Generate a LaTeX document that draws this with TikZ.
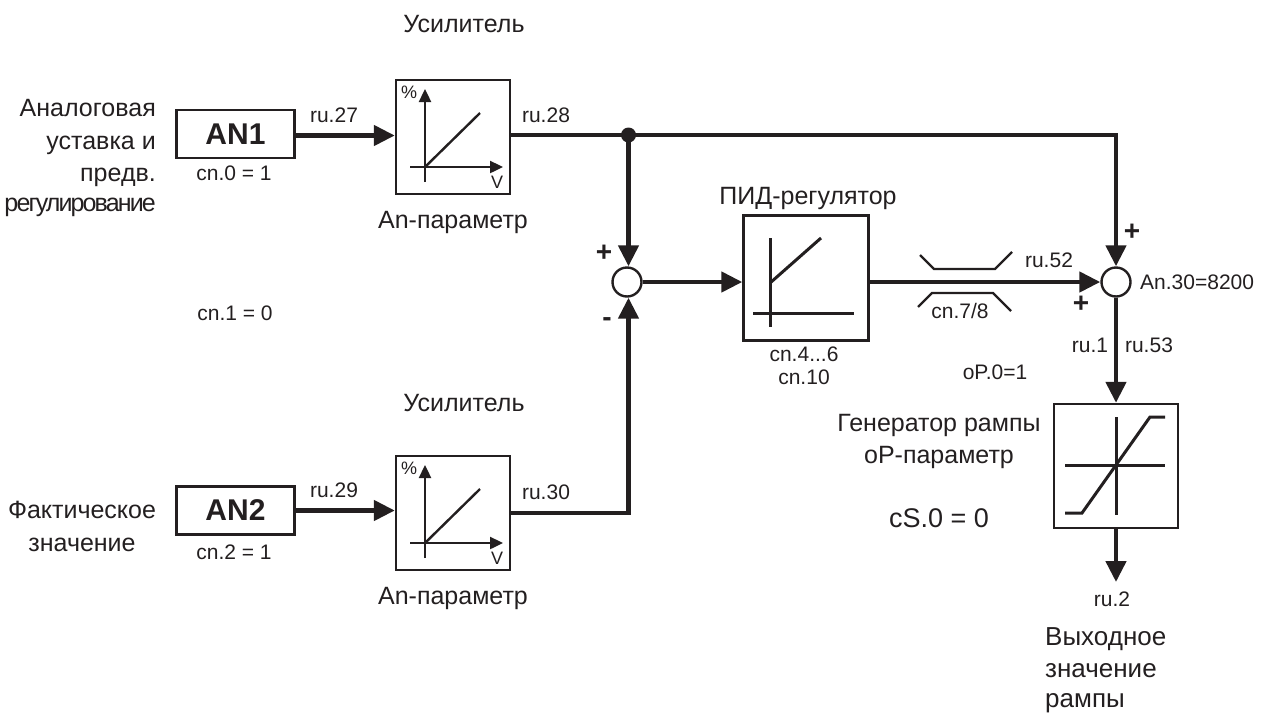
\documentclass[tikz,border=0pt]{standalone}
\usepackage{fontspec}
\setmainfont{Liberation Sans}
\usetikzlibrary{arrows.meta,calc}
\definecolor{ink}{HTML}{231F20}
\tikzset{
  big/.style={inner sep=0pt,text=ink,text height=20pt,text depth=3pt,font=\fontsize{25}{25}\selectfont},
  bigger/.style={inner sep=0pt,text=ink,text height=20pt,text depth=3pt,font=\fontsize{26}{26}\selectfont},
  mid/.style={inner sep=0pt,text=ink,text height=21pt,text depth=3pt,font=\fontsize{27}{27}\selectfont},
  small/.style={inner sep=0pt,text=ink,text height=18pt,text depth=3pt,font=\fontsize{21}{21}\selectfont},
  tiny/.style={inner sep=0pt,text=ink,text height=13pt,text depth=3pt,font=\fontsize{18}{18}\selectfont},
  sign/.style={inner sep=0pt,text=ink,text height=19pt,text depth=5pt,font=\fontsize{28}{28}\selectfont\bfseries},
  anbox/.style={draw=ink,line width=2.4pt,fill=white,minimum width=118pt,minimum height=48pt,inner sep=0pt,font=\fontsize{30}{30}\selectfont\bfseries,text=ink},
  ampbox/.style={draw=ink,line width=2.4pt,fill=white,minimum width=114pt,minimum height=114pt,inner sep=0pt},
  pidbox/.style={draw=ink,line width=2.4pt,fill=white,minimum width=125pt,minimum height=125pt,inner sep=0pt},
  rampbox/.style={draw=ink,line width=2.4pt,fill=white,minimum width=124pt,minimum height=124pt,inner sep=0pt},
  sumc/.style={circle,draw=ink,line width=2.4pt,fill=white,minimum size=29pt,inner sep=0pt},
  wire/.style={draw=ink,line width=4.6pt},
  flow/.style={wire,-{Triangle[length=21pt,width=20pt]}},
  thin curve/.style={draw=ink,line width=2.4pt},
  axis/.style={draw=ink,line width=2.4pt,-{Triangle[length=13pt,width=12pt]}},
  jdot/.style={circle,fill=ink,minimum size=15pt,inner sep=0pt},
}
\begin{document}
\begin{tikzpicture}[x=1pt,y=-1pt]
\useasboundingbox (0,0) rectangle (1267,713);
% boxes
\node[anbox] (an1) at (235.5,134) {AN1};
\node[anbox] (an2) at (235.5,510.5) {AN2};
\node[ampbox] (amp1) at (453,137) {};
\node[ampbox] (amp2) at (453,513) {};
\node[pidbox] (pid) at (806,278) {};
\node[rampbox] (ramp) at (1116,466) {};
\node[sumc] (s1) at (627,282) {};
\node[sumc] (s2) at (1116,282) {};
\coordinate (j) at (628.5,135);
\coordinate (corner) at (628.5,513);
\coordinate (topcorner) at (1116,135);
\coordinate (out) at (1116,582);
% connectors
\draw[flow] ($(an1.east)+(0,1.5)$) -- ($(an1.east -| amp1.west)+(0,1.5)$);
\draw[flow] (an2.east) -- (an2.east -| amp2.west);
\draw[wire,line cap=rect] (amp1.east |- j) -- (j) -- (topcorner);
\draw[flow] (topcorner) -- (s2.north);
\draw[flow] (j) -- (j |- s1.north);
\draw[wire,line cap=rect] (amp2.east) -- (corner);
\draw[flow] (corner) -- (corner |- s1.south);
\draw[flow] (s1.east) -- (s1.east -| pid.west);
\draw[flow] (pid.east |- s2.west) -- (s2.west);
\draw[flow] (s2.south) -- (ramp.north);
\draw[flow] (ramp.south) -- (out);
\node[jdot] (jd) at (j) {};
% graph in amp 1 and 2
\foreach \dy/\nm in {0/a,376/b}{
  \draw[axis] (425,182+\dy) -- (425,89+\dy);
  \draw[axis] (410,167+\dy) -- (503,167+\dy);
  \draw[thin curve] (425,167+\dy) -- (480,113+\dy);
  \node[tiny] (pct\nm) at (409,93+\dy) {\%};
  \node[tiny] (v\nm) at (497,183+\dy) {V};
}
% PID graph
\draw[thin curve,line width=3pt] (770,238) -- (770,327);
\draw[thin curve,line width=3pt] (753,313) -- (854,313);
\draw[thin curve,line width=3pt] (770,283) -- (821,238);
% limiter
\draw[thin curve] (920,255) -- (934,269) -- (995,269) -- (1012,252);
\draw[thin curve] (918,307) -- (932,293) -- (993,293) -- (1011,311);
% ramp graph
\draw[thin curve,line width=3pt] (1116,417) -- (1116,515);
\draw[thin curve,line width=3pt] (1065,465) -- (1165,465);
\draw[thin curve,line width=3pt] (1065,513) -- (1082,513) -- (1150,417) -- (1165,417);
% labels
\node[big] (u1) at (464,24) {Усилитель};
\node[big] (u2) at (464,403) {Усилитель};
\node[big,anchor=east] (t1) at (156,108) {Аналоговая};
\node[big,anchor=east] (t2) at (156,141) {уставка и};
\node[big,anchor=east] (t3) at (156,173) {предв.};
\node[big,anchor=east] (t4) at (156,203) {\addfontfeature{LetterSpace=-7.5}регулирование};
\node[big] (f1) at (82,510) {Фактическое};
\node[big] (f2) at (82,542.5) {значение};
\node[small] (c0) at (234,173) {cn.0 = 1};
\node[small] (c1) at (235,313) {cn.1 = 0};
\node[small] (c2) at (234,551.5) {cn.2 = 1};
\node[small] (r27) at (334,115) {ru.27};
\node[small] (r28) at (546,115) {ru.28};
\node[small] (r29) at (334,490) {ru.29};
\node[small] (r30) at (546,492) {ru.30};
\node[big] (ap1) at (453,220) {An-параметр};
\node[big] (ap2) at (453,596) {An-параметр};
\node[big] (pidt) at (808,196) {ПИД-регулятор};
\node[small] (c46) at (804,354) {cn.4...6};
\node[small] (c10) at (804,377) {cn.10};
\node[small] (r52) at (1049,260) {ru.52};
\node[small] (c78) at (960,311) {cn.7/8};
\node[small,anchor=west] (an30) at (1140,282) {An.30=8200};
\node[small] (r1) at (1090,345) {ru.1};
\node[small] (r53) at (1149,345) {ru.53};
\node[small] (op0) at (995,372) {oP.0=1};
\node[big] (gen) at (939,423) {Генератор рампы};
\node[big] (opp) at (939,455) {oP-параметр};
\node[mid] (cs) at (939,518) {cS.0 = 0};
\node[small] (r2) at (1112,598.5) {ru.2};
\node[bigger,anchor=west] (o1) at (1045,636.5) {Выходное};
\node[bigger,anchor=west] (o2) at (1045,668.5) {значение};
\node[bigger,anchor=west] (o3) at (1045,699) {рампы};
\node[sign] (p1) at (604,254) {+};
\node[sign] (m1) at (607,319) {-};
\node[sign] (p2) at (1132,233) {+};
\node[sign] (p3) at (1081,305) {+};
\end{tikzpicture}
\end{document}
